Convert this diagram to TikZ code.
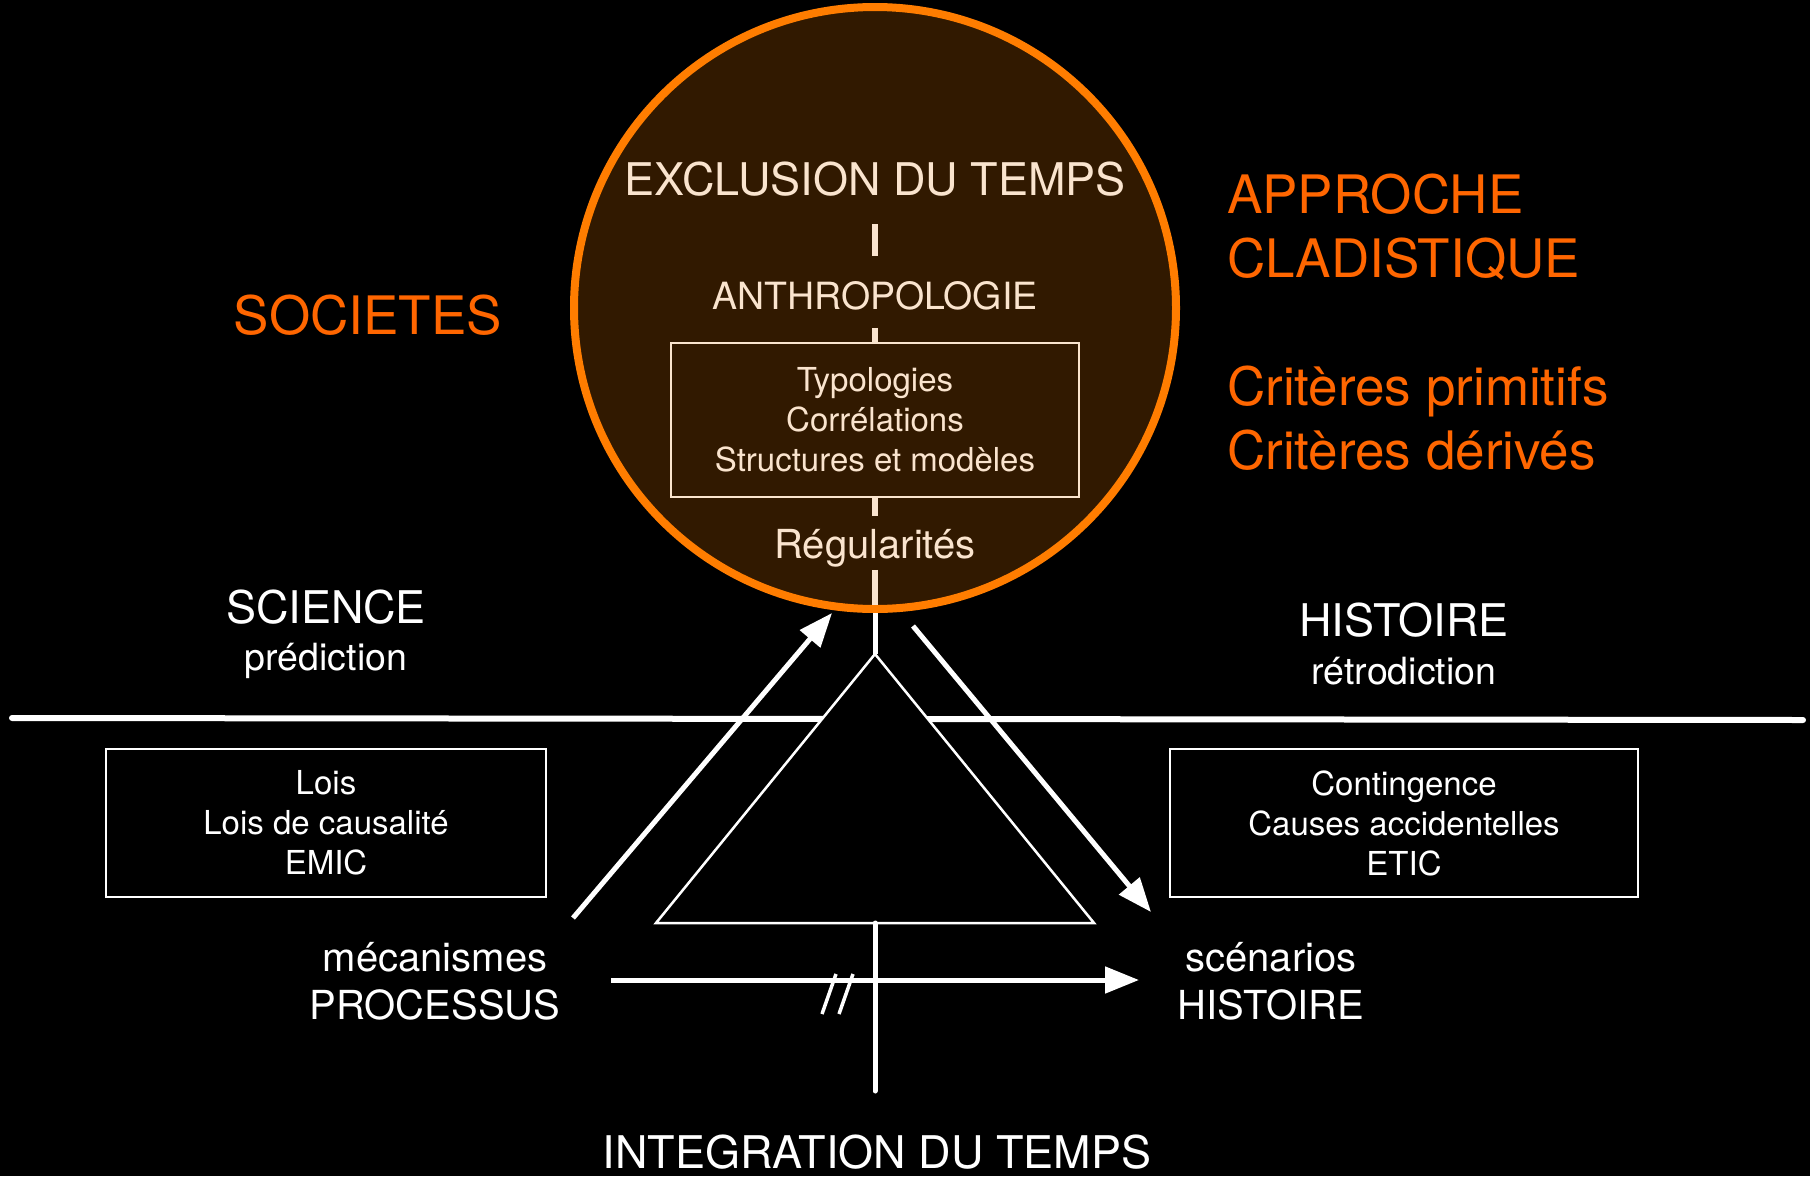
\documentclass[tikz,border=0pt]{standalone}
\usepackage{fontspec}
\setmainfont{TeX Gyre Heros}
\usetikzlibrary{arrows.meta}
\definecolor{cream}{RGB}{250,228,206}
\definecolor{brownfill}{RGB}{49,25,0}
\definecolor{ringorange}{RGB}{255,125,0}
\definecolor{textorange}{RGB}{255,102,0}
\newcommand{\titlefont}{\fontsize{45}{54}\selectfont}
\newcommand{\orangefont}{\fontsize{53}{64}\selectfont}
\newcommand{\midfont}{\fontsize{40}{48}\selectfont}
\newcommand{\subfont}{\fontsize{37.5}{45}\selectfont}
\newcommand{\boxfont}{\fontsize{33}{40}\selectfont}

\begin{document}
\begin{tikzpicture}[x=1pt,y=-1pt,
  lbl/.style={inner sep=0pt,anchor=base,text=white},
  inlbl/.style={lbl,text=cream},
  orlbl/.style={inner sep=0pt,anchor=base west,text=textorange,font=\orangefont},
  frame/.style={draw=white,line width=2.5pt,text=white,align=center,font=\boxfont,minimum height=148pt},
  tick/.style={draw=cream,line width=6pt},
  stem/.style={draw=white,line width=5pt},
  arr/.style={draw=white,line width=5pt,-{Triangle[length=34pt,width=26pt]}}]

  % background
  \fill[black] (0,0) rectangle (1810,1176);

  % separation line
  \coordinate (hlL) at (12,718);
  \coordinate (hlR) at (1803,720);
  \draw[white,line width=6pt,line cap=round] (hlL) -- (hlR);

  % circle
  \node[circle,fill=brownfill,draw=ringorange,line width=8pt,minimum size=602pt,
        inner sep=0pt,outer sep=0pt] (circ) at (875,308) {};

  % triangle and time axis
  \coordinate (apex) at (875,654);
  \coordinate (triL) at (656,923);
  \coordinate (triR) at (1094,923);
  \coordinate (triB) at (875,923);
  \coordinate (axisEnd) at (875,1091);
  \draw[stem,shorten <=4pt] (circ.south) -- (apex);
  \filldraw[fill=black,draw=white,line width=2.5pt] (apex) -- (triL) -- (triR) -- cycle;
  \draw[stem,line cap=round] (triB) -- (axisEnd);

  % arrows
  \coordinate (upS) at (573,918);
  \coordinate (upE) at (832,613);
  \coordinate (dnS) at (913,626);
  \coordinate (dnE) at (1151,912);
  \coordinate (hzS) at (611,980);
  \coordinate (hzE) at (1139,980);
  \draw[arr] (upS) -- (upE);
  \draw[arr] (dnS) -- (dnE);
  \draw[arr] (hzS) -- (hzE);
  \draw[white,line width=3.5pt] (822,1014) -- (836,974);
  \draw[white,line width=3.5pt] (839,1014) -- (853,974);

  % inside the circle
  \node[inlbl,font=\titlefont] (excl) at (875,195) {EXCLUSION DU TEMPS};
  \node[inlbl,font=\subfont] (anthro) at (875,309) {ANTHROPOLOGIE};
  \node[frame,draw=cream,text=cream,minimum width=408pt,minimum height=154pt] (typo) at (875,420)
    {Typologies\\Corrélations\\Structures et modèles};
  \node[inlbl,font=\midfont] (regul) at (875,558) {Régularités};
  \draw[tick,shorten <=28pt,shorten >=25pt] (excl.south) -- (anthro.north);
  \draw[tick,shorten <=18pt] (anthro.south) -- (typo.north);
  \draw[tick,shorten >=13pt] (typo.south) -- (regul.north);
  \draw[tick,shorten <=3pt,shorten >=4pt] (regul.south) -- (circ.south);

  % orange labels
  \node[lbl,text=textorange,font=\orangefont] (societes) at (368,334) {SOCIETES};
  \node[orlbl] (approche) at (1227,213) {APPROCHE};
  \node[orlbl] (cladist) at (1227,277) {CLADISTIQUE};
  \node[orlbl] (critPrim) at (1227,405) {Critères primitifs};
  \node[orlbl] (critDer) at (1227,469) {Critères dérivés};

  % science / histoire
  \node[lbl,font=\titlefont] (science) at (326,623) {SCIENCE};
  \node[lbl,font=\subfont] (predic) at (326,670) {prédiction};
  \node[lbl,font=\titlefont] (histTop) at (1404,636) {HISTOIRE};
  \node[lbl,font=\subfont] (retro) at (1404,684) {rétrodiction};

  \node[frame,minimum width=440pt] (lois) at (326,823) {Lois\\Lois de causalité\\EMIC};
  \node[frame,minimum width=468pt] (conting) at (1404,823) {Contingence\\Causes accidentelles\\ETIC};

  \node[lbl,font=\midfont] (meca) at (435,971) {mécanismes};
  \node[lbl,font=\midfont] (proc) at (435,1019) {PROCESSUS};
  \node[lbl,font=\midfont] (scen) at (1271,971) {scénarios};
  \node[lbl,font=\midfont] (histBot) at (1271,1019) {HISTOIRE};

  \node[lbl,font=\titlefont] (integ) at (877,1168) {INTEGRATION DU TEMPS};
\end{tikzpicture}
\end{document}
